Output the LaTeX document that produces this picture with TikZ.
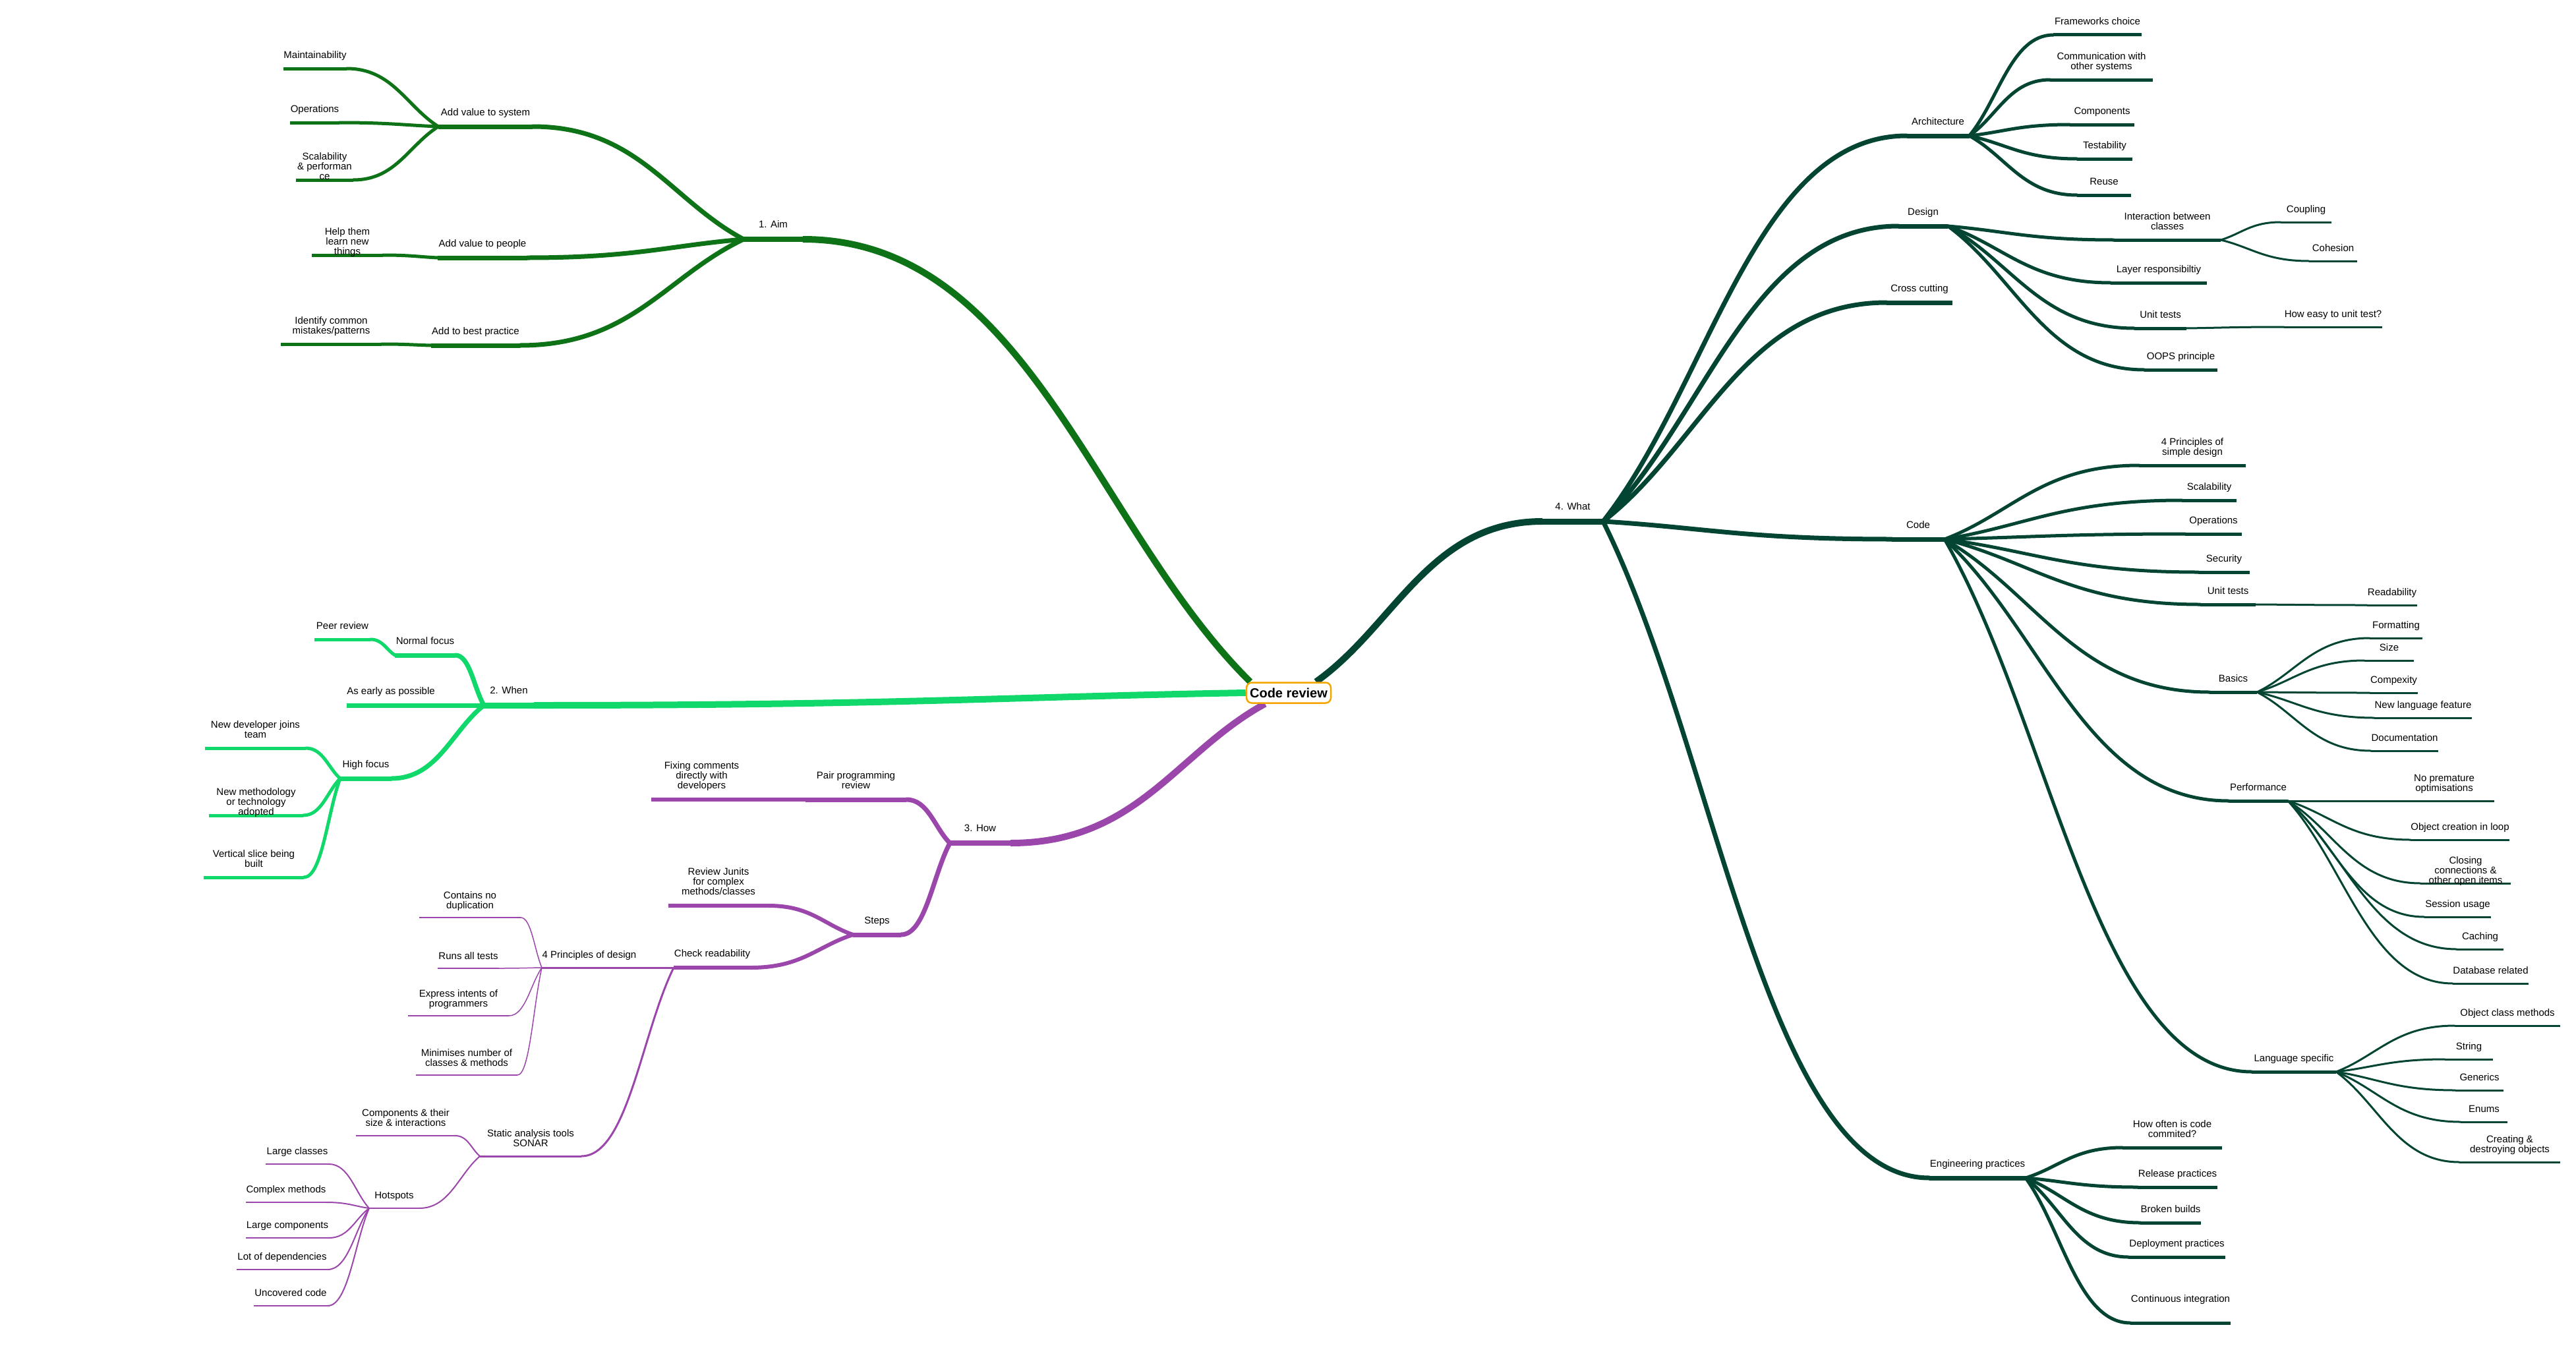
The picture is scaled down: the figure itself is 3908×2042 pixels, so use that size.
\documentclass[tikz,border=0pt]{standalone}
\usepackage{fontspec}
\setmainfont{Liberation Sans}
\usetikzlibrary{calc,backgrounds}
\definecolor{AimGreen}{HTML}{0E7216}
\definecolor{WhenGreen}{HTML}{10D86B}
\definecolor{HowPurple}{HTML}{9B46AB}
\definecolor{WhatGreen}{HTML}{034532}
\definecolor{RootOrange}{HTML}{F5A500}

\begin{document}
\begin{tikzpicture}[x=1pt,y=-1pt,
    lab/.style={font=\fontsize{15}{15}\selectfont,align=center,inner sep=0pt,text depth=0pt,text=black},
    every label/.style={lab},label distance=13pt,
    sunk/.style={label distance=-2pt},lifted/.style={label distance=29pt},
    bar/.style={fill,inner sep=0pt,outer sep=0pt,minimum height=#1pt},
    br/.style={line width=#1pt,line cap=round},
    trunk/.style={line width=10pt,line cap=butt},
    mm/.style={to path={.. controls ($(\tikztostart)!0.35!(\tikztotarget)$)
      and ($(\tikztotarget)!0.5!(\tikztostart |- \tikztotarget)$) .. (\tikztotarget)}},
    rootbox/.style={draw=RootOrange,line width=2.5pt,rounded corners=8pt,fill=white,
      font=\fontsize{20}{22}\selectfont\bfseries,minimum width=128pt,minimum height=31pt,inner sep=0pt}
  ]
  \useasboundingbox (0,0) rectangle (3908,2042);
  \node[rootbox] (root) at (1955,1051) {Code review};

  % 1. Aim
  \node[bar=8,AimGreen,minimum width=90pt,label=above:1. Aim] (aim) at (1173,363) {};
  \node[bar=7,AimGreen,minimum width=143pt,label=above:Add value to system] (sys) at (736.5,192) {};
  \node[bar=7,AimGreen,minimum width=136pt,label=above:Add value to people] (ppl) at (732,391) {};
  \node[bar=7,AimGreen,minimum width=135pt,label=above:Add to best practice] (best) at (721.5,524) {};
  \node[bar=5,AimGreen,minimum width=96pt,label=above:Maintainability] (maint) at (478,104) {};
  \node[bar=5,AimGreen,minimum width=75pt,label=above:Operations] (ops) at (477.5,186) {};
  \node[bar=5,AimGreen,minimum width=87pt,label={[sunk]above:Scalability\\\& performan\\ce}] (scal) at (492.5,273) {};
  \node[bar=5,AimGreen,minimum width=108pt,label={[sunk]above:Help them\\learn new\\things}] (help) at (527,387) {};
  \node[bar=5,AimGreen,minimum width=153pt,label=above:Identify common\\mistakes/patterns] (ident) at (502.5,522) {};

  % 2. When
  \node[bar=9,WhenGreen,minimum width=76pt,label=above:2. When] (when) at (772,1070) {};
  \node[bar=7,WhenGreen,minimum width=92pt,label=above:Normal focus] (normal) at (645,994) {};
  \node[bar=7,WhenGreen,minimum width=134pt,label=above:As early as possible] (early) at (593,1070) {};
  \node[bar=7,WhenGreen,minimum width=78pt,label=above:High focus] (high) at (555,1181) {};
  \node[bar=5,WhenGreen,minimum width=85pt,label=above:Peer review] (peer) at (519.5,970) {};
  \node[bar=5,WhenGreen,minimum width=153pt,label=above:New developer joins\\team] (newdev) at (387.5,1135) {};
  \node[bar=5,WhenGreen,minimum width=143pt,label={[sunk]above:New methodology\\or technology\\adopted}] (newmeth) at (388.5,1237) {};
  \node[bar=5,WhenGreen,minimum width=152pt,label=above:Vertical slice being\\built] (vert) at (385,1331) {};

  % 3. How
  \node[bar=8,HowPurple,minimum width=92pt,label=above:3. How] (how) at (1487,1279) {};
  \node[bar=7,HowPurple,minimum width=153pt,label=above:Pair programming\\review] (pair) at (1298.5,1213) {};
  \node[bar=6,HowPurple,minimum width=153pt,label=above:Fixing comments\\directly with\\developers] (fix) at (1064.5,1213) {};
  \node[bar=7,HowPurple,minimum width=73pt,label=above:Steps] (steps) at (1330.5,1418) {};
  \node[bar=6,HowPurple,minimum width=152pt,label=above:Review Junits\\for complex\\methods/classes] (junit) at (1090,1374) {};
  \node[bar=6,HowPurple,minimum width=117pt,label=above:Check readability] (check) at (1080.5,1468) {};
  \node[bar=3,HowPurple,minimum width=144pt,label=above:4 Principles of design] (fourp) at (894,1468) {};
  \node[bar=3,HowPurple,minimum width=154pt,label=above:Static analysis tools\\SONAR] (static) at (805,1754) {};
  \node[bar=1.5,HowPurple,minimum width=154pt,label=above:Contains no\\duplication] (dup) at (713,1392) {};
  \node[bar=1.5,HowPurple,minimum width=93pt,label=above:Runs all tests] (runs) at (710.5,1469) {};
  \node[bar=1.5,HowPurple,minimum width=153pt,label=above:Express intents of\\programmers] (expr) at (695.5,1541) {};
  \node[bar=1.5,HowPurple,minimum width=154pt,label=above:Minimises number of\\classes \& methods] (mini) at (708,1631) {};
  \node[bar=2,HowPurple,minimum width=151pt,label=above:Components \& their\\size \& interactions] (comp) at (615.5,1723) {};
  \node[bar=2,HowPurple,minimum width=76pt,label=above:Hotspots] (hot) at (598,1833) {};
  \node[bar=2,HowPurple,minimum width=96pt,label=above:Large classes] (large) at (451,1766) {};
  \node[bar=2,HowPurple,minimum width=122pt,label=above:Complex methods] (cmplx) at (434,1824) {};
  \node[bar=2,HowPurple,minimum width=126pt,label=above:Large components] (lcomp) at (436,1878) {};
  \node[bar=2,HowPurple,minimum width=138pt,label=above:Lot of dependencies] (lot) at (428,1926) {};
  \node[bar=2,HowPurple,minimum width=112pt,label=above:Uncovered code] (unc) at (441,1981) {};

  % 4. What
  \node[bar=9,WhatGreen,minimum width=92pt,label=above:4. What] (what) at (2386,791) {};
  \node[bar=7,WhatGreen,minimum width=95pt,label=above:Architecture] (arch) at (2940,206) {};
  \node[bar=7,WhatGreen,minimum width=75pt,label=above:Design] (design) at (2917.5,343) {};
  \node[bar=7,WhatGreen,minimum width=100pt,label=above:Cross cutting] (cross) at (2912,459) {};
  \node[bar=7,WhatGreen,minimum width=80pt,label=above:Code] (code) at (2910,818) {};
  \node[bar=7,WhatGreen,minimum width=146pt,label=above:Engineering practices] (eng) at (3000,1787) {};
  \node[bar=5,WhatGreen,minimum width=134pt,label=above:Frameworks choice] (fw) at (3182,53) {};
  \node[bar=5,WhatGreen,minimum width=156pt,label=above:Communication with\\other systems] (comm) at (3188,121) {};
  \node[bar=5,WhatGreen,minimum width=98pt,label=above:Components] (cmpn) at (3189,189) {};
  \node[bar=5,WhatGreen,minimum width=84pt,label=above:Testability] (test) at (3193,241) {};
  \node[bar=5,WhatGreen,minimum width=82pt,label=above:Reuse] (reuse) at (3192,296) {};
  \node[bar=5,WhatGreen,minimum width=162pt,label=above:Interaction between\\classes] (inter) at (3288,364) {};
  \node[bar=5,WhatGreen,minimum width=146pt,label=above:Layer responsibiltiy] (layer) at (3275,429) {};
  \node[bar=5,WhatGreen,minimum width=79pt,label=above:Unit tests] (dut) at (3277.5,498) {};
  \node[bar=5,WhatGreen,minimum width=111pt,label=above:OOPS principle] (oops) at (3308.5,561) {};
  \node[bar=3,WhatGreen,minimum width=77pt,label=above:Coupling] (coup) at (3498.5,337) {};
  \node[bar=3,WhatGreen,minimum width=73pt,label=above:Cohesion] (cohes) at (3539.5,396) {};
  \node[bar=3,WhatGreen,minimum width=149pt,label=above:How easy to unit test?] (easy) at (3539.5,496) {};
  \node[bar=5,WhatGreen,minimum width=162pt,label=above:4 Principles of\\simple design] (four) at (3326,706) {};
  \node[bar=5,WhatGreen,minimum width=83pt,label=above:Scalability] (scaltwo) at (3351.5,759) {};
  \node[bar=5,WhatGreen,minimum width=86pt,label=above:Operations] (opstwo) at (3358,810) {};
  \node[bar=5,WhatGreen,minimum width=78pt,label=above:Security] (sec) at (3374,868) {};
  \node[bar=5,WhatGreen,minimum width=84pt,label=above:Unit tests] (cut) at (3380,917) {};
  \node[bar=3,WhatGreen,minimum width=76pt,label=above:Readability] (read) at (3629,918) {};
  \node[bar=5,WhatGreen,minimum width=72pt,label=above:Basics] (basics) at (3388,1050) {};
  \node[bar=3,WhatGreen,minimum width=80pt,label=above:Formatting] (fmt) at (3635,968) {};
  \node[bar=3,WhatGreen,minimum width=75pt,label=above:Size] (size) at (3624.5,1002) {};
  \node[bar=3,WhatGreen,minimum width=73pt,label=above:Compexity] (cpx) at (3631.5,1051) {};
  \node[bar=3,WhatGreen,minimum width=148pt,label=above:New language feature] (nlf) at (3676,1089) {};
  \node[bar=3,WhatGreen,minimum width=102pt,label=above:Documentation] (doc) at (3648,1139) {};
  \node[bar=5,WhatGreen,minimum width=90pt,label=above:Performance] (perf) at (3426,1215) {};
  \node[bar=3,WhatGreen,minimum width=152pt,label=above:No premature\\optimisations] (nopre) at (3708,1215) {};
  \node[bar=3,WhatGreen,minimum width=150pt,label=above:Object creation in loop] (obj) at (3732,1274) {};
  \node[bar=3,WhatGreen,minimum width=137pt,label={[sunk]above:Closing\\connections \&\\other open items}] (close) at (3740.5,1340) {};
  \node[bar=3,WhatGreen,minimum width=101pt,label=above:Session usage] (sess) at (3728.5,1391) {};
  \node[bar=3,WhatGreen,minimum width=71pt,label=above:Caching] (cach) at (3762.5,1440) {};
  \node[bar=3,WhatGreen,minimum width=115pt,label=above:Database related] (db) at (3778.5,1492) {};
  \node[bar=5,WhatGreen,minimum width=128pt,label=above:Language specific] (lang) at (3480,1626) {};
  \node[bar=3,WhatGreen,minimum width=160pt,label=above:Object class methods] (ocm) at (3804,1556) {};
  \node[bar=3,WhatGreen,minimum width=73pt,label=above:String] (str) at (3745.5,1607) {};
  \node[bar=3,WhatGreen,minimum width=73pt,label=above:Generics] (gen) at (3761.5,1654) {};
  \node[bar=3,WhatGreen,minimum width=71pt,label=above:Enums] (enum) at (3768.5,1702) {};
  \node[bar=3,WhatGreen,minimum width=153pt,label=above:Creating \&\\destroying objects] (cre) at (3807.5,1763) {};
  \node[bar=5,WhatGreen,minimum width=151pt,label=above:How often is code\\commited?] (often) at (3295.5,1741) {};
  \node[bar=5,WhatGreen,minimum width=121pt,label=above:Release practices] (rel) at (3303.5,1801) {};
  \node[bar=5,WhatGreen,minimum width=92pt,label=above:Broken builds] (brk) at (3293,1855) {};
  \node[bar=5,WhatGreen,minimum width=147pt,label=above:Deployment practices] (dep) at (3302.5,1907) {};
  \node[bar=5,WhatGreen,minimum width=152pt,label={[lifted]above:Continuous integration}] (ci) at (3308,2007) {};

  \begin{scope}[on background layer]
    % aim
    \draw[trunk,AimGreen] (root.164) to[mm] (aim.east);
    \foreach \x in {sys,ppl,best} \draw[br=7,AimGreen] (aim.west) to[mm] (\x.east);
    \foreach \x in {maint,ops,scal} \draw[br=5,AimGreen] (sys.west) to[mm] (\x.east);
    \draw[br=5,AimGreen] (ppl.west) to[mm] (help.east);
    \draw[br=5,AimGreen] (best.west) to[mm] (ident.east);
    % when
    \draw[trunk,WhenGreen] (root.west) to[mm] (when.east);
    \foreach \x in {normal,early,high} \draw[br=7,WhenGreen] (when.west) to[mm] (\x.east);
    \draw[br=5,WhenGreen] (normal.west) to[mm] (peer.east);
    \foreach \x in {newdev,newmeth,vert} \draw[br=5,WhenGreen] (high.west) to[mm] (\x.east);
    % how
    \draw[trunk,HowPurple] (root.205) to[mm] (how.east);
    \foreach \x in {pair,steps} \draw[br=7,HowPurple] (how.west) to[mm] (\x.east);
    \draw[br=6,HowPurple] (pair.west) to[mm] (fix.east);
    \foreach \x in {junit,check} \draw[br=6,HowPurple] (steps.west) to[mm] (\x.east);
    \foreach \x in {fourp,static} \draw[br=3,HowPurple] (check.west) to[mm] (\x.east);
    \foreach \x in {dup,runs,expr,mini} \draw[br=1.5,HowPurple] (fourp.west) to[mm] (\x.east);
    \foreach \x in {comp,hot} \draw[br=2,HowPurple] (static.west) to[mm] (\x.east);
    \foreach \x in {large,cmplx,lcomp,lot,unc} \draw[br=2,HowPurple] (hot.west) to[mm] (\x.east);
    % what
    \draw[trunk,WhatGreen] (root.22) to[mm] (what.west);
    \foreach \x in {arch,design,cross,code,eng} \draw[br=7,WhatGreen] (what.east) to[mm] (\x.west);
    \foreach \x in {fw,comm,cmpn,test,reuse} \draw[br=5,WhatGreen] (arch.east) to[mm] (\x.west);
    \foreach \x in {inter,layer,dut,oops} \draw[br=5,WhatGreen] (design.east) to[mm] (\x.west);
    \foreach \x in {coup,cohes} \draw[br=3,WhatGreen] (inter.east) to[mm] (\x.west);
    \draw[br=3,WhatGreen] (dut.east) to[mm] (easy.west);
    \foreach \x in {four,scaltwo,opstwo,sec,cut,basics,perf,lang} \draw[br=5,WhatGreen] (code.east) to[mm] (\x.west);
    \draw[br=3,WhatGreen] (cut.east) to[mm] (read.west);
    \foreach \x in {fmt,size,cpx,nlf,doc} \draw[br=3,WhatGreen] (basics.east) to[mm] (\x.west);
    \foreach \x in {nopre,obj,close,sess,cach,db} \draw[br=3,WhatGreen] (perf.east) to[mm] (\x.west);
    \foreach \x in {ocm,str,gen,enum,cre} \draw[br=3,WhatGreen] (lang.east) to[mm] (\x.west);
    \foreach \x in {often,rel,brk,dep,ci} \draw[br=5,WhatGreen] (eng.east) to[mm] (\x.west);
  \end{scope}
\end{tikzpicture}
\end{document}
